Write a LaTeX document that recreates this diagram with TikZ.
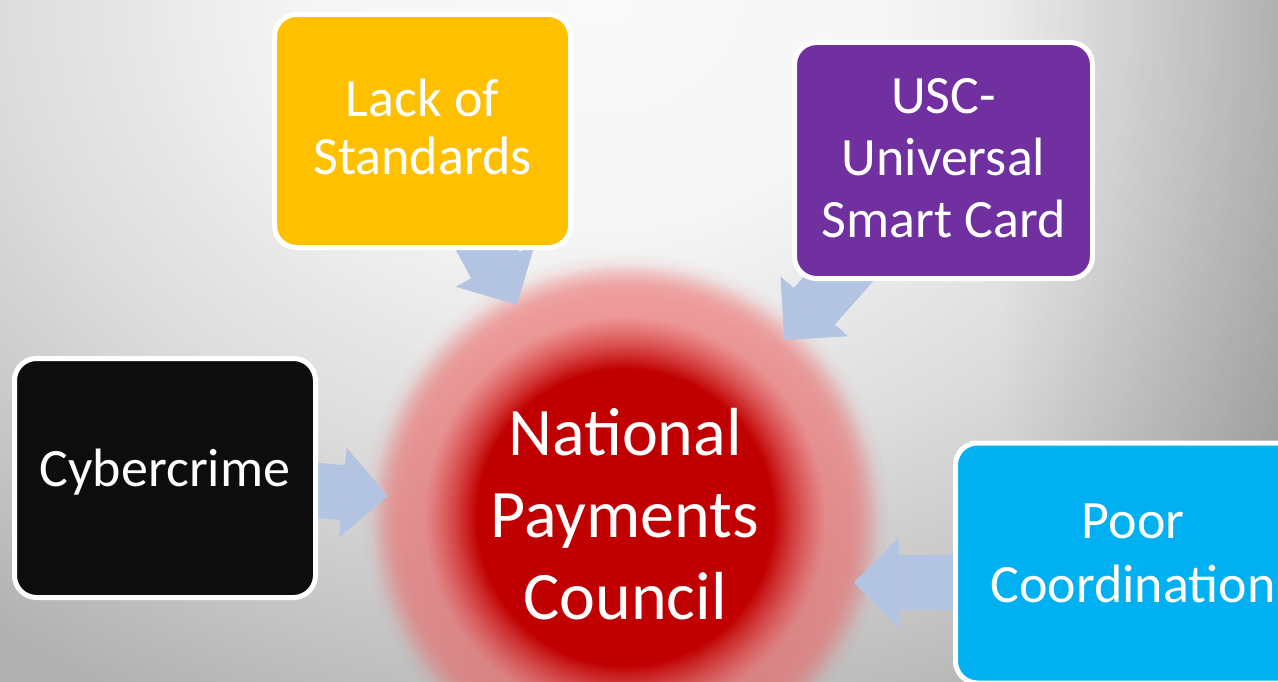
\documentclass[tikz,border=0pt]{standalone}
\usepackage{fontspec}
\setmainfont{Carlito}
\usetikzlibrary{arrows.meta,fadings}
\pgfdeclarelayer{bg}
\pgfdeclarelayer{arr}
\pgfsetlayers{bg,arr,main}

\definecolor{npcred}{HTML}{C00000}
\definecolor{npcpink}{RGB}{238,82,82}
\definecolor{arrowblue}{RGB}{178,196,226}
\definecolor{boxyellow}{HTML}{FFC000}
\definecolor{boxpurple}{HTML}{7030A0}
\definecolor{boxblack}{HTML}{0D0D0D}
\definecolor{boxblue}{HTML}{00B0F0}
\definecolor{bgA}{gray}{0.976}
\definecolor{bgB}{gray}{0.965}
\definecolor{bgC}{gray}{0.863}
\definecolor{bgD}{gray}{0.78}
\definecolor{bgE}{gray}{0.69}

% path edge (inscribed ellipse) = 25bp
\pgfdeclareradialshading{bgshade}{\pgfpointorigin}{color(0bp)=(bgA); color(7bp)=(bgB); color(15bp)=(bgC); color(20bp)=(bgD); color(25bp)=(bgE); color(50bp)=(bgE)}
\pgfdeclarehorizontalshading{rightdarkshade}{100bp}{color(0bp)=(black); color(25bp)=(black); color(75bp)=(white); color(100bp)=(white)}
\pgfdeclarefading{rightdark}{\pgfuseshading{rightdarkshade}}
\pgfdeclareradialshading{npcshade}{\pgfpointorigin}{color(0bp)=(npcred); color(14bp)=(npcred); color(19bp)=(npcpink); color(50bp)=(npcpink)}
\pgfdeclareradialshading{npcfadeshade}{\pgfpointorigin}{color(0bp)=(white); color(14bp)=(white); color(19bp)=(black!45); color(21bp)=(black!47); color(22bp)=(black!52); color(23bp)=(black!70); color(24bp)=(black!92); color(25bp)=(black); color(50bp)=(black)}
\pgfdeclarefading{npcfade}{\pgfuseshading{npcfadeshade}}

\tikzset{
  box/.style={rectangle, rounded corners=22pt, draw=white, line width=5pt,
    text=white, align=center, inner sep=0pt,
    font=\fontsize{54}{60}\selectfont},
  npcnode/.style={circle, minimum size=476pt, inner sep=0pt, text=white,
    align=center, font=\fontsize{68}{82}\selectfont},
  blockarrow/.style={draw=arrowblue, line width=55pt,
    -{Triangle[width=90pt,length=45pt,line width=0.5pt]}}
}

\begin{document}
\begin{tikzpicture}[x=1pt,y=-1pt]
\useasboundingbox (0,0) rectangle (1278,682);

\begin{pgfonlayer}{bg}
  \clip (0,0) rectangle (1278,682);
  \shade[shading=bgshade] (-400,-800) rectangle (1600,800);
  \fill[black, opacity=0.17, path fading=rightdark] (1000,-10) rectangle (1290,700);
  \shade[shading=npcshade, path fading=npcfade] (625,517) circle [radius=264];
\end{pgfonlayer}

\node[npcnode, text depth=6pt] (npc) at (625,517) {National\\Payments\\Council};

\node[box, fill=boxyellow, minimum width=296pt, minimum height=233pt,
  text depth=8pt, font=\fontsize{54}{58}\selectfont] (lack) at (422.5,131) {Lack of\\Standards};
\node[box, fill=boxpurple, minimum width=298pt, minimum height=236pt,
  text depth=5pt, font=\fontsize{54}{62}\selectfont] (usc) at (943.5,160.5) {USC-\\Universal\\Smart Card};
\node[box, fill=boxblack, minimum width=301pt, minimum height=239pt,
  text depth=20pt] (cyber) at (165,478) {Cybercrime};
\node[box, fill=boxblue, minimum width=355pt, minimum height=240pt,
  text depth=20pt, font=\fontsize{54}{64}\selectfont] (poor) at (1133,563) {Poor\\Coordination};

\begin{pgfonlayer}{arr}
  \draw[blockarrow] (lack.center) -- (npc.117.3);
  \draw[blockarrow] (usc.center) -- (npc.48.6);
  \draw[blockarrow] (cyber.center) -- (npc.175);
  \draw[blockarrow] (poor.center |- npc.344.4) -- (npc.344.4);
\end{pgfonlayer}
\end{tikzpicture}
\end{document}
